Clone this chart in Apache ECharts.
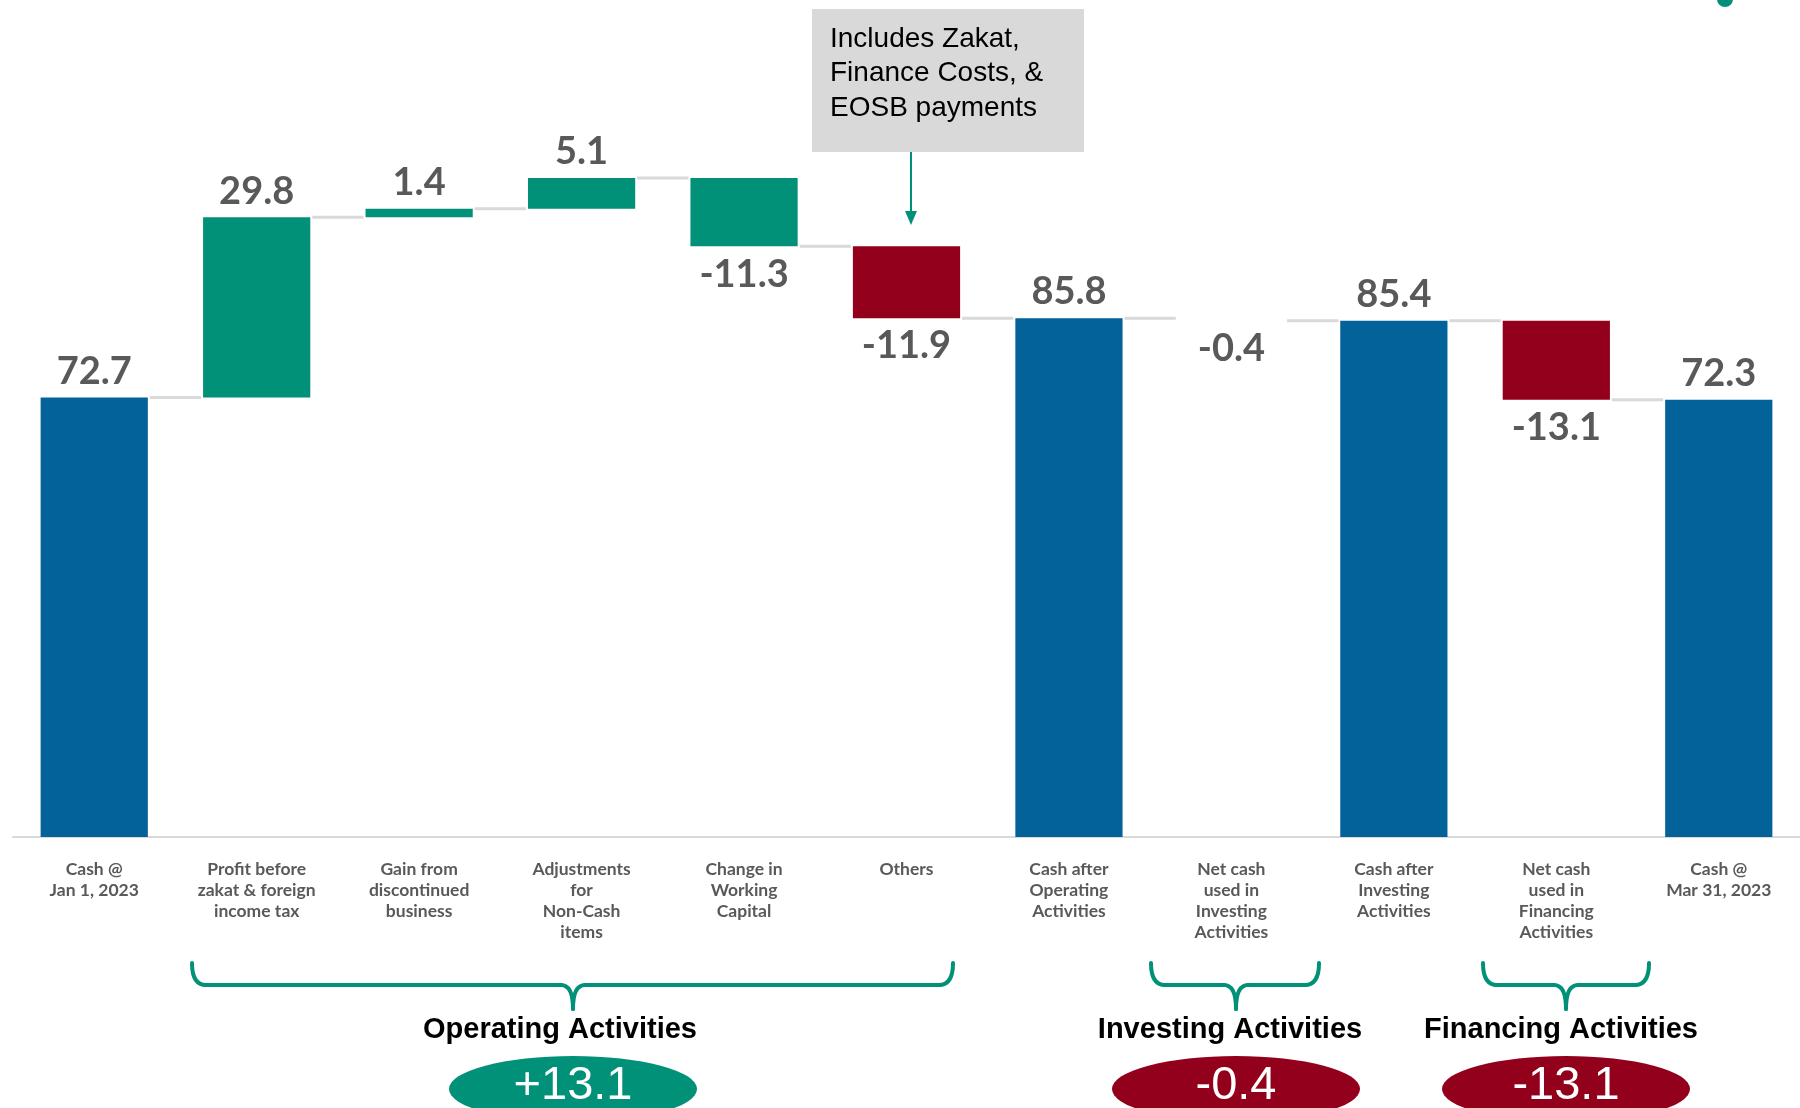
<!DOCTYPE html>
<html>
<head>
<meta charset="utf-8">
<script src="https://cdn.jsdelivr.net/npm/echarts@6/dist/echarts.min.js"></script>
<style>
  html, body { margin: 0; padding: 0; background: #fff; }
  #chart { width: 1800px; height: 1108px; }
</style>
</head>
<body>
<div id="chart"></div>
<script>
// chart data
var categories = [
  'Cash @\nJan 1, 2023',
  'Profit before\nzakat & foreign\nincome tax',
  'Gain from\ndiscontinued\nbusiness',
  'Adjustments\nfor\nNon-Cash\nitems',
  'Change in\nWorking\nCapital',
  'Others',
  'Cash after\nOperating\nActivities',
  'Net cash\nused in\nInvesting\nActivities',
  'Cash after\nInvesting\nActivities',
  'Net cash\nused in\nFinancing\nActivities',
  'Cash @\nMar 31, 2023'
]
var values = [72.7, 29.8, 1.4, 5.1, -11.3, -11.9, 85.8, -0.4, 85.4, -13.1, 72.3]
// 'none' = too thin to show in the source slide
var barKinds = ['total', 'op', 'op', 'op', 'op', 'flag', 'total', 'none', 'total', 'flag', 'total']
var groupNames = ['Operating Activities', 'Investing Activities', 'Financing Activities']
var groupTotals = ['+13.1', '-0.4', '-13.1']
var groupKinds = ['op', 'flag', 'flag']

var colors = { total: '#03629a', op: '#009178', flag: '#93001b', none: 'rgba(0,0,0,0)' }
var GREY = '#595959'

// waterfall: invisible base + visible height, running total for connectors
var base = []
var height = []
var levels = []
var run = 0
values.forEach(function (v, i) {
  if (barKinds[i] === 'total') {
    base.push(0)
    height.push(v)
    run = v
  } else {
    var end = run + v
    base.push(Math.min(run, end))
    height.push(Math.abs(v))
    run = end
  }
  levels.push(run)
})

var chart = echarts.init(document.getElementById('chart'))

// braces / group call-outs (pixel layout of annotations)
var braces = [
  { l: 192, r: 953, c: 573 },
  { l: 1151, r: 1319, c: 1236 },
  { l: 1483, r: 1649, c: 1566 }
]
var graphics = []
var braceStyle = { stroke: colors.op, lineWidth: 4, fill: null, lineCap: 'round' }
function halfBrace (x, c, dir) {
  var T = 963, H = 985, B = 1009
  graphics.push({
    type: 'bezierCurve',
    shape: { x1: x, y1: T, cpx1: x, cpy1: H, x2: x + dir * 14, y2: H },
    style: braceStyle
  })
  graphics.push({
    type: 'line',
    shape: { x1: x + dir * 14, y1: H, x2: c - dir * 12, y2: H },
    style: braceStyle
  })
  graphics.push({
    type: 'bezierCurve',
    shape: { x1: c - dir * 12, y1: H, cpx1: c, cpy1: H, x2: c, y2: B },
    style: braceStyle
  })
}
braces.forEach(function (b, i) {
  halfBrace(b.l, b.c, 1)
  halfBrace(b.r, b.c, -1)
  graphics.push({
    type: 'text',
    x: b.c - (i === 0 ? 13 : 6) + (i === 2 ? 1 : 0),
    y: 1030,
    style: {
      text: groupNames[i],
      font: 'bold 29px "Liberation Sans", Arial, sans-serif',
      fill: '#000',
      textAlign: 'center',
      textVerticalAlign: 'middle'
    }
  })
  graphics.push({
    type: 'circle',
    x: b.c,
    y: 1089,
    scaleX: 124 / 33,
    scaleY: 1,
    shape: { cx: 0, cy: 0, r: 33 },
    style: { fill: colors[groupKinds[i]] }
  })
  graphics.push({
    type: 'text',
    x: b.c,
    y: 1086,
    style: {
      text: groupTotals[i],
      font: '47px "Liberation Sans", Arial, sans-serif',
      fill: '#fff',
      textAlign: 'center',
      textVerticalAlign: 'middle'
    }
  })
})

// note box with arrow
graphics.push({
  type: 'rect',
  shape: { x: 812, y: 9, width: 272, height: 143 },
  style: { fill: '#d9d9d9' }
})
graphics.push({
  type: 'text',
  x: 830,
  y: 22,
  style: {
    text: 'Includes Zakat,\nFinance Costs, &\nEOSB payments',
    font: '28px "Liberation Sans", Arial, sans-serif',
    lineHeight: 34.5,
    fill: '#000',
    textAlign: 'left',
    textVerticalAlign: 'top'
  }
})
graphics.push({
  type: 'line',
  shape: { x1: 911, y1: 152, x2: 911, y2: 214 },
  style: { stroke: colors.op, lineWidth: 2 }
})
graphics.push({
  type: 'polygon',
  shape: { points: [[905, 211], [917, 211], [911, 225]] },
  style: { fill: colors.op }
})
graphics.push({
  type: 'circle',
  shape: { cx: 1725, cy: -1, r: 8 },
  style: { fill: colors.op }
})

var option = {
  animation: false,
  grid: {
    left: 13,
    right: 0,
    top: 51,
    bottom: 271
  },
  xAxis: {
    type: 'category',
    data: categories,
    axisLine: { lineStyle: { color: '#d9d9d9', width: 2 } },
    axisTick: { show: false },
    axisLabel: {
      interval: 0,
      margin: 22,
      fontFamily: 'Lato',
      fontWeight: 'bold',
      fontSize: 17.5,
      lineHeight: 21,
      color: GREY
    }
  },
  yAxis: {
    type: 'value',
    min: 0,
    max: 130,
    show: false,
    splitLine: { show: false }
  },
  series: [
    {
      name: 'base',
      type: 'bar',
      stack: 'w',
      barWidth: '66%',
      silent: true,
      itemStyle: { color: 'transparent' },
      data: base
    },
    {
      name: 'cash',
      type: 'bar',
      stack: 'w',
      barWidth: '66%',
      data: height.map(function (h, i) {
        return {
          value: h,
          itemStyle: { color: colors[barKinds[i]] },
          label: {
            position: values[i] < 0 ? 'bottom' : 'top',
            distance: values[i] < 0 ? 9 : 7
          }
        }
      }),
      label: {
        show: true,
        fontFamily: 'Lato',
        fontWeight: 'bold',
        fontSize: 38,
        color: GREY,
        formatter: function (p) {
          return values[p.dataIndex].toFixed(1)
        }
      }
    },
    {
      name: 'connectors',
      type: 'custom',
      silent: true,
      encode: { x: 0, y: 1 },
      data: levels.slice(0, -1).map(function (l, i) {
        return [i, l]
      }),
      renderItem: function (params, api) {
        var i = api.value(0)
        var y = api.coord([i, api.value(1)])[1]
        var bw = api.size([1, 0])[0] * 0.66
        var x1 = api.coord([i, 0])[0] + bw / 2 + 2
        var x2 = api.coord([i + 1, 0])[0] - bw / 2 - 2
        return {
          type: 'line',
          shape: { x1: x1, y1: y, x2: x2, y2: y },
          style: { stroke: '#d9d9d9', lineWidth: 3 }
        }
      }
    }
  ],
  graphic: graphics
}
chart.setOption(option)
</script>
</body>
</html>
